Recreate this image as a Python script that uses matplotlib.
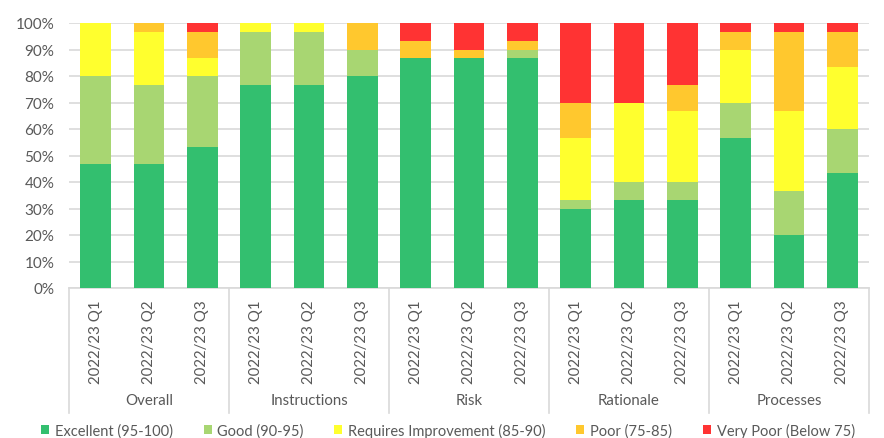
import matplotlib
matplotlib.use("Agg")
import matplotlib.pyplot as plt
import matplotlib.transforms as mtransforms
from matplotlib.patches import Patch

plt.rcParams['font.family'] = ['Lato', 'DejaVu Sans']

groups = ["Overall", "Instructions", "Risk", "Rationale", "Processes"]
quarters = ["2022/23 Q1", "2022/23 Q2", "2022/23 Q3"]

series_names = ["Excellent (95-100)", "Good (90-95)", "Requires Improvement (85-90)",
                "Poor (75-85)", "Very Poor (Below 75)"]

# Percentages per bar, in group order (Overall Q1..Q3, Instructions Q1..Q3, ...)
excellent = [46.67, 46.67, 53.33, 76.67, 76.67, 80.00, 86.67, 86.67, 86.67,
             30.00, 33.33, 33.33, 56.67, 20.00, 43.33]
good = [33.33, 30.00, 26.67, 20.00, 20.00, 10.00, 0.00, 0.00, 3.33,
        3.33, 6.67, 6.67, 13.33, 16.67, 16.67]
requires_improvement = [20.00, 20.00, 6.67, 3.33, 3.33, 0.00, 0.00, 0.00, 0.00,
                        23.33, 30.00, 26.67, 20.00, 30.00, 23.33]
poor = [0.00, 3.33, 10.00, 0.00, 0.00, 10.00, 6.67, 3.33, 3.33,
        13.33, 0.00, 10.00, 6.67, 30.00, 13.33]
very_poor = [0.00, 0.00, 3.33, 0.00, 0.00, 0.00, 6.67, 10.00, 6.67,
             30.00, 30.00, 23.33, 3.33, 3.33, 3.33]

colors = ["#33BF6F", "#A8D672", "#FFFF2E", "#FFC82E", "#FF3333"]
text_color = "#595959"
line_color = "#D9D9D9"
fs = 10.5

fig = plt.figure(figsize=(8.84, 4.39), dpi=100)
ax = fig.add_axes([69 / 884, 1 - 289 / 439, 800 / 884, 265 / 439])

data = [excellent, good, requires_improvement, poor, very_poor]
n = len(excellent)
x = list(range(n))
bottom = [0.0] * n
for vals, col, name in zip(data, colors, series_names):
    ax.bar(x, vals, width=0.58, bottom=bottom, color=col, label=name, zorder=3)
    bottom = [b + v for b, v in zip(bottom, vals)]

ax.set_xlim(-0.5, n - 0.5)
ax.set_ylim(0, 100)
ax.set_yticks(range(0, 101, 10))
ax.set_yticklabels([f"{v}%" for v in range(0, 101, 10)], fontsize=fs + 0.5, color=text_color)
ax.tick_params(axis='y', length=0, pad=10.5)
ax.yaxis.grid(True, color=line_color, linewidth=1.2, zorder=0)
ax.set_axisbelow(True)
for s in ["left", "right", "top"]:
    ax.spines[s].set_visible(False)
ax.spines["bottom"].set_color(line_color)
ax.spines["bottom"].set_linewidth(1.2)

# Quarter labels under each bar
ax.set_xticks(x)
ax.set_xticklabels([])
ax.tick_params(axis='x', length=0)
trans = mtransforms.blended_transform_factory(ax.transData, ax.transAxes)
px = 1 / 265.0
for i in x:
    ax.text(i, -11 * px, quarters[i % 3], rotation=90, ha='center', va='top',
            fontsize=fs + 0.3, color=text_color, transform=trans)

# Group labels and separators
for g, name in enumerate(groups):
    ax.text(g * 3 + 1, -112 * px, name, ha='center', va='center',
            fontsize=fs + 0.3, color=text_color, transform=trans)
for g in range(len(groups) + 1):
    xs = g * 3 - 0.5
    ax.plot([xs, xs], [0, -125 * px], color=line_color, linewidth=1.2,
            transform=trans, clip_on=False)

handles = [Patch(facecolor=c, label=nm) for c, nm in zip(colors, series_names)]
fig.legend(handles=handles, loc='center', bbox_to_anchor=(448 / 884, 1 - 431 / 439),
           ncol=5, frameon=False, fontsize=fs, handlelength=0.55, handleheight=0.55,
           handletextpad=0.4, columnspacing=2.1, labelcolor=text_color)

fig.savefig("out.png", dpi=100)
